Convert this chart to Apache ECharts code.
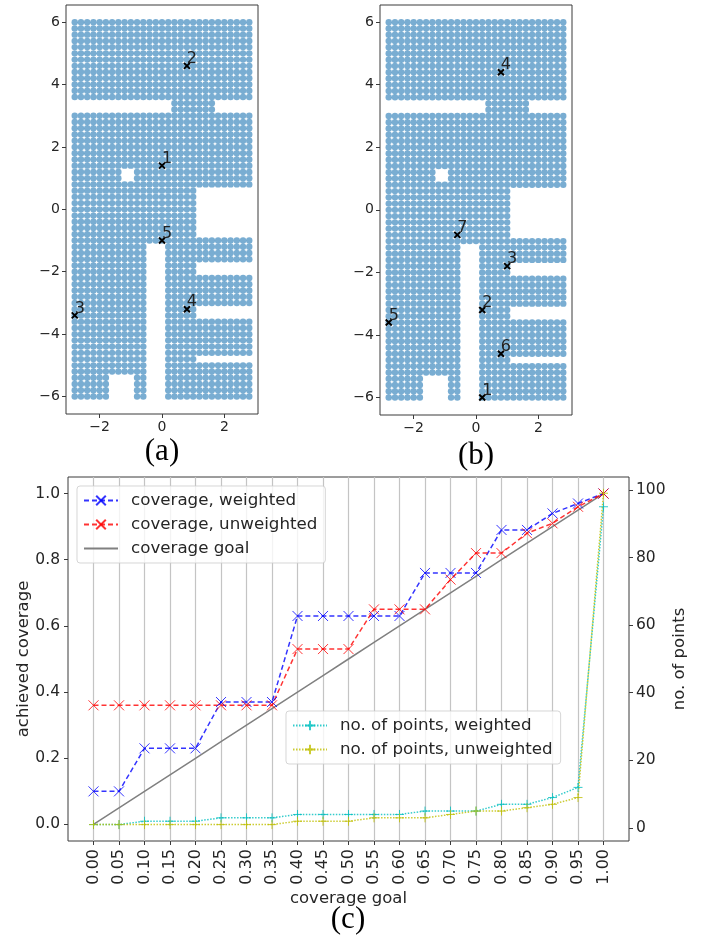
<!DOCTYPE html>
<html><head><meta charset="utf-8">
<style>html,body{margin:0;padding:0;background:#fff}#c{width:702px;height:935px}</style>
<script src="https://cdn.jsdelivr.net/npm/echarts@6/dist/echarts.min.js"></script>
</head><body><div id="c"></div>
<script>
// Lattice of candidate locations (panels a, b)
const latticeX = [-2.8,-2.6,-2.4,-2.2,-2,-1.8,-1.6,-1.4,-1.2,-1,-0.8,-0.6,-0.4,-0.2,0,0.2,0.4,0.6,0.8,1,1.2,1.4,1.6,1.8,2,2.2,2.4,2.6,2.8];
const latticeY = [6,5.8,5.6,5.4,5.2,5,4.8,4.6,4.4,4.2,4,3.8,3.6,3.4,3.2,3,2.8,2.6,2.4,2.2,2,1.8,1.6,1.4,1.2,1,0.8,0.6,0.4,0.2,0,-0.2,-0.4,-0.6,-0.8,-1,-1.2,-1.4,-1.6,-1.8,-2,-2.2,-2.4,-2.6,-2.8,-3,-3.2,-3.4,-3.6,-3.8,-4,-4.2,-4.4,-4.6,-4.8,-5,-5.2,-5.4,-5.6,-5.8,-6];
// Empty rectangles of the lattice: [xMin, xMax, yMin, yMax]
const holes = [
  [-2.8,0.2,3.2,3.4],[1.8,2.8,3.2,3.4],
  [-1.2,-1,1,1.2],
  [1.2,2.8,-0.8,0.6],
  [1.2,2.8,-2,-1.8],[1.2,2.8,-3.4,-3.2],[1.2,2.8,-4.8,-4.8],
  [-0.4,0,-6,-1.2],
  [-1.6,-1,-6,-5.4]
];
// Selected points
const pointsAX = [0,0.8,-2.8,0.8,0];
const pointsAY = [1.4,4.6,-3.4,-3.2,-1];
const pointsALabels = ['1','2','3','4','5'];
const pointsBX = [0.2,0.2,1,0.8,-2.8,0.8,-0.6];
const pointsBY = [-6,-3.2,-1.8,4.4,-3.6,-4.6,-0.8];
const pointsBLabels = ['1','2','3','4','5','6','7'];
// Panel c
const goal = [0,0.05,0.1,0.15,0.2,0.25,0.3,0.35,0.4,0.45,0.5,0.55,0.6,0.65,0.7,0.75,0.8,0.85,0.9,0.95,1];
const coverageWeighted = [0.1,0.1,0.23,0.23,0.23,0.37,0.37,0.37,0.63,0.63,0.63,0.63,0.63,0.76,0.76,0.76,0.89,0.89,0.94,0.97,1];
const coverageUnweighted = [0.36,0.36,0.36,0.36,0.36,0.36,0.36,0.36,0.53,0.53,0.53,0.65,0.65,0.65,0.74,0.82,0.82,0.88,0.91,0.96,1];
const pointsWeighted = [1,1,2,2,2,3,3,3,4,4,4,4,4,5,5,5,7,7,9,12,95];
const pointsUnweighted = [1,1,1,1,1,1,1,1,2,2,2,3,3,3,4,5,5,6,7,9,99];
const panelTicksX = [-2,0,2];
const panelTicksY = [-6,-4,-2,0,2,4,6];
const leftTicks = [0,0.2,0.4,0.6,0.8,1];
const rightTicks = [0,20,40,60,80,100];

const ink = '#262626', spine = '#3a3a3a';
const inHole = (x,y) => holes.some(h => x>=h[0]-1e-9 && x<=h[1]+1e-9 && y>=h[2]-1e-9 && y<=h[3]+1e-9);
const lattice = [];
latticeY.forEach(y => latticeX.forEach(x => { if(!inHole(x,y)) lattice.push([x,y]); }));
const minus = v => String(v).replace('-','\u2212');
const zip = (xs,ys) => xs.map((x,i)=>[x,ys[i]]);
const cross = 'path://M0 0L10 10M10 0L0 10';
const plus = 'path://M5 0L5 10M0 5L10 5';
const hiddenLine = {show:false,onZero:false};

function panelAxes(i){
  return {
    x:{type:'value',gridIndex:i,min:-3.08,max:3.08,splitLine:{show:false},
       axisLine:hiddenLine,
       axisTick:{customValues:panelTicksX,length:4,lineStyle:{color:spine}},
       axisLabel:{customValues:panelTicksX,formatter:minus,color:ink,fontFamily:'DejaVu Sans',fontSize:14,margin:6}},
    y:{type:'value',gridIndex:i,min:-6.56,max:6.55,splitLine:{show:false},
       axisLine:hiddenLine,
       axisTick:{customValues:panelTicksY,length:4,lineStyle:{color:spine}},
       axisLabel:{customValues:panelTicksY,formatter:minus,color:ink,fontFamily:'DejaVu Sans',fontSize:14,margin:6,padding:[2,0,0,0]}}
  };
}
function panelSeries(i,xs,ys,labels){
  return [{
    type:'scatter',xAxisIndex:i,yAxisIndex:i,data:lattice,symbolSize:6.4,silent:true,
    itemStyle:{color:'#1f77b4',opacity:0.6}
  },{
    type:'scatter',xAxisIndex:i,yAxisIndex:i,data:xs.map((x,k)=>[x,ys[k],labels[k]]),
    symbol:cross,symbolSize:6,z:5,silent:true,
    itemStyle:{color:'#000',borderColor:'#000',borderWidth:2,opacity:1},
    label:{show:true,position:'inside',offset:[5,-7],formatter:p=>p.value[2],color:'#222',fontFamily:'DejaVu Sans',fontSize:16}
  }];
}
const a = panelAxes(0), b = panelAxes(1);
const lineS = (name,xs,ys,yi,color,dash,sym,size,op,show) => ({
  name,type:'line',xAxisIndex:2,yAxisIndex:yi,data:zip(xs,ys),symbol:sym,symbolSize:size,showSymbol:show,
  color,lineStyle:{color,width:1.5,type:dash,opacity:op},
  itemStyle:{color,borderColor:color,borderWidth:1,opacity:op},
  emphasis:{disabled:true}
});
const legendBase = {orient:'vertical',itemWidth:34,itemHeight:12,itemGap:7,align:'left',
  backgroundColor:'rgba(255,255,255,0.8)',borderColor:'rgba(204,204,204,0.8)',borderWidth:1,borderRadius:3,selectedMode:false,
  textStyle:{color:ink,fontFamily:'DejaVu Sans',fontSize:16.7,padding:[0,0,0,8]}};
const caption = (text,x,y) => ({type:'text',x,y,style:{text,fill:'#000',font:'31px "Liberation Serif"',textAlign:'center',textVerticalAlign:'middle'}});

const option = {
  animation:false,
  grid:[
    {left:66,top:5,width:192,height:409,show:true,borderColor:spine,borderWidth:1},
    {left:380,top:5,width:192,height:410,show:true,borderColor:spine,borderWidth:1},
    {left:68,top:477,width:561,height:364,show:true,borderColor:spine,borderWidth:1}
  ],
  xAxis:[a.x,b.x,{
    type:'value',gridIndex:2,min:-0.05,max:1.05,interval:0.05,
    name:'coverage goal',nameLocation:'middle',nameGap:49,
    nameTextStyle:{color:ink,fontFamily:'DejaVu Sans',fontSize:16.5},
    axisLine:hiddenLine,
    splitLine:{show:true,lineStyle:{color:'#c4c4c4',width:1.2}},
    axisTick:{customValues:goal,length:4,lineStyle:{color:spine}},
    axisLabel:{customValues:goal,rotate:90,margin:8,formatter:v=>v.toFixed(2),color:ink,fontFamily:'DejaVu Sans',fontSize:16}
  }],
  yAxis:[a.y,b.y,{
    type:'value',gridIndex:2,min:-0.05,max:1.05,position:'left',
    name:'achieved coverage',nameLocation:'middle',nameGap:36,nameRotate:90,nameMoveOverlap:false,
    nameTextStyle:{color:ink,fontFamily:'DejaVu Sans',fontSize:16.5},
    axisLine:hiddenLine,splitLine:{show:false},
    axisTick:{customValues:leftTicks,length:4,lineStyle:{color:spine}},
    axisLabel:{customValues:leftTicks,margin:8,formatter:v=>v.toFixed(1),color:ink,fontFamily:'DejaVu Sans',fontSize:15.5,padding:[3,0,0,0]}
  },{
    type:'value',gridIndex:2,min:-3.85,max:103.8,position:'right',
    name:'no. of points',nameLocation:'middle',nameGap:42,nameRotate:90,nameMoveOverlap:false,
    nameTextStyle:{color:ink,fontFamily:'DejaVu Sans',fontSize:16.5},
    axisLine:hiddenLine,splitLine:{show:false},
    axisTick:{customValues:rightTicks,length:4,lineStyle:{color:spine}},
    axisLabel:{customValues:rightTicks,margin:7,color:ink,fontFamily:'DejaVu Sans',fontSize:15.5,padding:[3,0,0,0]}
  }],
  legend:[
    Object.assign({},legendBase,{left:77,top:486,padding:[6,8,6,6],
      data:['coverage, weighted','coverage, unweighted',{name:'coverage goal',itemStyle:{opacity:0}}]}),
    Object.assign({},legendBase,{left:286,top:711,padding:[6,8,6,6],
      data:['no. of points, weighted','no. of points, unweighted']})
  ],
  series:[
    ...panelSeries(0,pointsAX,pointsAY,pointsALabels),
    ...panelSeries(1,pointsBX,pointsBY,pointsBLabels),
    lineS('coverage goal',goal,goal,2,'#808080','solid','circle',0,1,false),
    lineS('coverage, weighted',goal,coverageWeighted,2,'#0000ff',[5,3],cross,10,0.8,true),
    lineS('coverage, unweighted',goal,coverageUnweighted,2,'#ff0000',[5,3],cross,10,0.8,true),
    lineS('no. of points, weighted',goal,pointsWeighted,3,'#00bfbf',[1.5,1.5],plus,9,0.8,true),
    lineS('no. of points, unweighted',goal,pointsUnweighted,3,'#bfbf00',[1.5,1.5],plus,9,0.8,true)
  ],
  graphic:[caption('(a)',162,452),caption('(b)',476,456),caption('(c)',348,920)]
};
const chart = echarts.init(document.getElementById('c'),null,{renderer:'canvas'});
chart.setOption(option);
</script></body></html>
